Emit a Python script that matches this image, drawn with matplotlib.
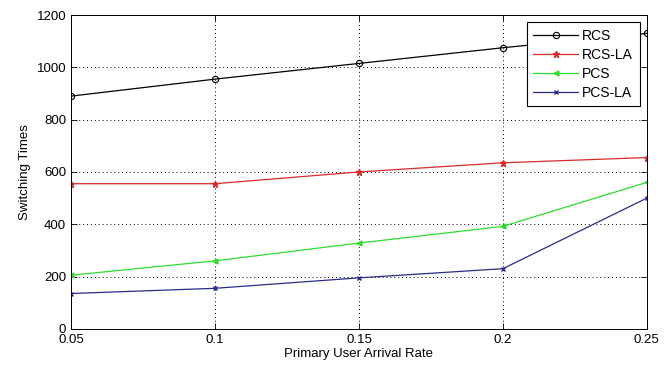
import matplotlib
matplotlib.use("Agg")
import matplotlib.pyplot as plt

x = [0.05, 0.1, 0.15, 0.2, 0.25]
rcs = [890, 955, 1015, 1075, 1130]
rcs_la = [555, 555, 600, 635, 655]
pcs = [205, 260, 328, 392, 560]
pcs_la = [135, 155, 195, 230, 500]
xticks = [0.05, 0.1, 0.15, 0.2, 0.25]
xticklabels = ["0.05", "0.1", "0.15", "0.2", "0.25"]
yticks = [0, 200, 400, 600, 800, 1000, 1200]

plt.rcParams['font.family'] = ['Liberation Sans', 'DejaVu Sans']
fig = plt.figure(figsize=(6.71, 3.67), dpi=100)
ax = fig.add_axes([0.106, 0.104, 0.858, 0.855])

ax.plot(x, rcs, color='black', marker='o', mfc='none', ms=4.5, mew=0.8, lw=0.9, label='RCS')
ax.plot(x, rcs_la, color='#d92a2a', marker='*', ms=4.5, lw=0.9, label='RCS-LA')
ax.plot(x, pcs, color='#2edc2e', marker='<', ms=3.5, lw=0.9, label='PCS')
ax.plot(x, pcs_la, color='#2a2a8c', marker='x', ms=3.5, lw=0.9, label='PCS-LA')

ax.set_xlim(0.05, 0.25)
ax.set_ylim(0, 1200)
ax.set_xticks(xticks)
ax.set_xticklabels(xticklabels)
ax.set_yticks(yticks)
ax.tick_params(direction='in', labelsize=9.5, length=4, width=0.6, top=True, right=True)
ax.grid(True, linestyle=(0, (1, 3)), color='black', linewidth=0.7)
for s in ax.spines.values():
    s.set_linewidth(0.7)
ax.set_xlabel('Primary User Arrival Rate', fontsize=9.5, labelpad=2)
ax.set_ylabel('Switching Times', fontsize=9.5, labelpad=4)

leg = ax.legend(loc='upper right', fontsize=10, fancybox=False, framealpha=1,
                edgecolor='black', borderaxespad=0.5, handlelength=3.2,
                labelspacing=0.35, handletextpad=0.3, borderpad=0.5)
leg.get_frame().set_linewidth(0.8)

fig.savefig('out.png', dpi=100)
